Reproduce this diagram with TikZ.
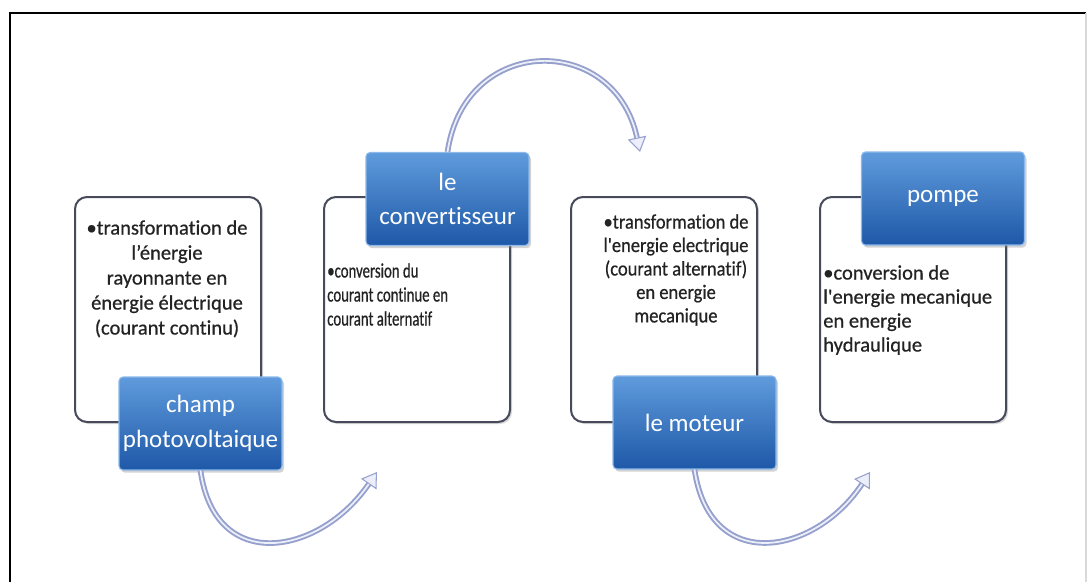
\documentclass[tikz,border=0pt]{standalone}
\usepackage{fontspec}
\setmainfont[Ligatures=NoCommon]{Carlito}
\newfontfamily\bodyfont[Ligatures=NoCommon,FakeBold=0.6]{Carlito}
\newfontfamily\narrowA[Ligatures=NoCommon,FakeStretch=0.72,FakeBold=0.6]{Carlito}
\newfontfamily\narrowB[Ligatures=NoCommon,FakeStretch=0.9,FakeBold=0.6]{Carlito}
\usetikzlibrary{arrows.meta,shadows}

\definecolor{framegray}{RGB}{70,74,90}
\definecolor{titletop}{RGB}{95,155,220}
\definecolor{titlebot}{RGB}{30,88,168}
\definecolor{titleline}{RGB}{140,185,235}
\definecolor{tubeblue}{RGB}{150,160,205}
\definecolor{tubelite}{RGB}{236,239,249}
\definecolor{bodytext}{RGB}{35,35,35}

\begin{document}
\begin{tikzpicture}[x=0.75pt,y=0.75pt,yscale=-1,xscale=1,
  infobox/.style={draw=framegray, line width=1.5pt, fill=white, rounded corners=9pt,
    minimum width=139.5pt, minimum height=168.75pt, inner sep=0pt,
    drop shadow={shadow xshift=1.5pt, shadow yshift=-1.5pt, opacity=0.3, fill=gray}},
  titlebox/.style={draw=titleline, line width=0.8pt, top color=titletop, bottom color=titlebot,
    rounded corners=3pt, minimum width=122.25pt, minimum height=69.75pt, inner sep=0pt,
    text=white, align=center, font=\fontsize{18.75}{26}\selectfont,
    drop shadow={shadow xshift=1.5pt, shadow yshift=-2pt, opacity=0.35, fill=gray}},
  bodytxt/.style={text=bodytext, inner sep=0pt},
  tube/.style={line width=4.2pt, draw=tubeblue,
    -{Triangle[length=11pt,width=14pt,fill=tubelite,line width=0.8pt]},
    postaction={draw=tubelite, line width=1.3pt, arrows=-, shorten >=11pt}}
]
\useasboundingbox (0,0) rectangle (1092,582);

% Frame
\draw [line width=2.2pt] (10,582) -- (10,13) -- (1086,13);
\draw [line width=0.8pt, black!15] (1086,13) -- (1086,582);

% Text Node
\node [infobox] (panneaubox) at (168,309.5) {};
\node [infobox] (convbox) at (417,309.5) {};
\node [infobox] (moteurbox) at (664,309.5) {};
\node [infobox] (pompebox) at (913,309.5) {};

% Text Node
\node [bodytxt, anchor=north, align=center, font=\bodyfont\fontsize{15.4}{18.75}\selectfont] (panneautxt) at (167,220)
  {•transformation de\\l’énergie\\rayonnante en\\énergie électrique\\(courant continu)};
\node [bodytxt, anchor=north west, align=left, font=\narrowA\fontsize{15.4}{18}\selectfont] (convtxt) at (327,263)
  {•conversion du\\courant continue en\\courant alternatif};
\node [bodytxt, anchor=north, align=center, font=\narrowB\fontsize{15.4}{17.6}\selectfont] (moteurtxt) at (676,214)
  {•transformation de\\l'energie electrique\\(courant alternatif)\\en energie\\mecanique};
\node [bodytxt, anchor=north west, align=left, font=\bodyfont\fontsize{15.4}{18}\selectfont] (pompetxt) at (823,265)
  {•conversion de\\l'energie mecanique\\en energie\\hydraulique};

% Text Node
\node [titlebox] (champ) at (200.5,423.5) {champ\\photovoltaique};
\node [titlebox] (conv) at (447.5,199) {le\\convertisseur};
\node [titlebox] (moteur) at (694.5,422.5) {le moteur};
\node [titlebox] (pompe) at (943,198.5) {pompe};

% Connection
\coordinate (tipA) at (377,472);
\coordinate (tipB) at (640,152);
\coordinate (tipC) at (870,472);
\draw [tube] (champ.south) .. controls (215,575) and (320,555) .. (tipA);
\draw [tube] (conv.north) .. controls (465,33) and (615,33) .. (tipB);
\draw [tube] (moteur.south) .. controls (710,575) and (815,555) .. (tipC);

\end{tikzpicture}
\end{document}
